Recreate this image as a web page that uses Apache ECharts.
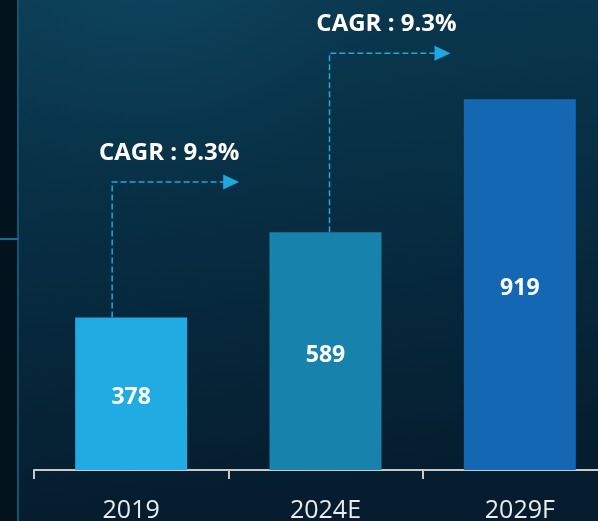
<!DOCTYPE html>
<html>
<head>
<meta charset="utf-8">
<script src="https://cdn.jsdelivr.net/npm/echarts@6/dist/echarts.min.js"></script>
<style>
  html, body { margin: 0; padding: 0; background: #061c2c; }
  #main { width: 598px; height: 521px; }
</style>
</head>
<body>
<div id="main"></div>
<script>
// data
var years = ['2019', '2024E', '2029F'];
var values = [378, 589, 919];
var barColors = ['#20ace3', '#1783ad', '#1468b3'];
// CAGR arrows: start bar index, level of the arrow (in value units), text
var cagrFrom = [0, 1];
var cagrLevel = [714, 1033];
var cagrText = ['CAGR : 9.3%', 'CAGR : 9.3%'];

var FONT = '"Open Sans", "Noto Sans", sans-serif';
var chart = echarts.init(document.getElementById('main'));

var option = {
    backgroundColor: {
        type: 'linear', x: 0, y: 0, x2: 0.1, y2: 1,
        colorStops: [
            { offset: 0, color: '#0a3a51' },
            { offset: 0.5, color: '#072c41' },
            { offset: 1, color: '#051d2e' }
        ]
    },
    animation: false,
    grid: {
        left: 34,
        width: 583,
        top: 66.5,
        height: 403.5,
        outerBoundsMode: 'none'
    },
    xAxis: {
        type: 'category',
        data: years,
        axisLine: { lineStyle: { color: '#c9c9c9', width: 2 } },
        axisTick: { show: true, length: 9, lineStyle: { color: '#c9c9c9', width: 2 } },
        axisLabel: {
            color: '#ececec',
            fontSize: 25,
            fontFamily: FONT,
            margin: 28
        }
    },
    yAxis: {
        type: 'value',
        min: 0,
        max: 1000,
        show: false,
        splitLine: { show: false }
    },
    series: [{
        type: 'bar',
        barWidth: 112,
        data: values.map(function (v, i) {
            return { value: v, itemStyle: { color: barColors[i] } };
        }),
        label: {
            show: true,
            position: 'inside',
            color: '#ffffff',
            fontSize: 23,
            fontWeight: 'bold',
            fontFamily: FONT,
            offset: [0, 4]
        }
    }]
};

chart.setOption(option);

// left side decoration + CAGR arrows, placed from the axes
var xShift = [-19, 4];
var arrowLen = [127, 121];
var graphics = [
    {
        type: 'circle', shape: { cx: 150, cy: -40, r: 240 }, silent: true, z: 0,
        style: {
            fill: {
                type: 'radial', x: 0.5, y: 0.5, r: 0.5,
                colorStops: [
                    { offset: 0, color: 'rgba(25,95,130,0.28)' },
                    { offset: 1, color: 'rgba(25,95,130,0)' }
                ]
            }
        }
    },
    { type: 'rect', shape: { x: 0, y: 0, width: 17, height: 521 }, style: { fill: '#03131e' }, z: 1 },
    { type: 'rect', shape: { x: 17, y: 0, width: 2, height: 521 }, style: { fill: '#0e5577' }, z: 2 },
    { type: 'rect', shape: { x: 0, y: 238, width: 19, height: 2 }, style: { fill: '#176c90' }, z: 2 }
];

cagrFrom.forEach(function (idx, k) {
    var top = chart.convertToPixel({ gridIndex: 0 }, [idx, values[idx]]);
    var lvl = chart.convertToPixel({ gridIndex: 0 }, [idx, cagrLevel[k]]);
    var x = top[0] + xShift[k];
    var y = lvl[1];
    var tipX = x + arrowLen[k];
    graphics.push({
        type: 'polyline', z: 10,
        shape: { points: [[x, top[1]], [x, y], [tipX - 14, y]] },
        style: { stroke: '#1ea8e0', lineWidth: 1.5, lineDash: [6, 3], fill: null }
    });
    graphics.push({
        type: 'polygon', z: 10,
        shape: { points: [[tipX - 16, y - 7.5], [tipX, y], [tipX - 16, y + 7.5]] },
        style: { fill: '#1ea8e0' }
    });
    graphics.push({
        type: 'text', z: 10,
        x: x + 57, y: y - 29,
        style: {
            text: cagrText[k],
            fill: '#ffffff',
            font: 'bold 24px ' + FONT,
            align: 'center',
            verticalAlign: 'middle'
        }
    });
});

chart.setOption({ graphic: graphics });
</script>
</body>
</html>
